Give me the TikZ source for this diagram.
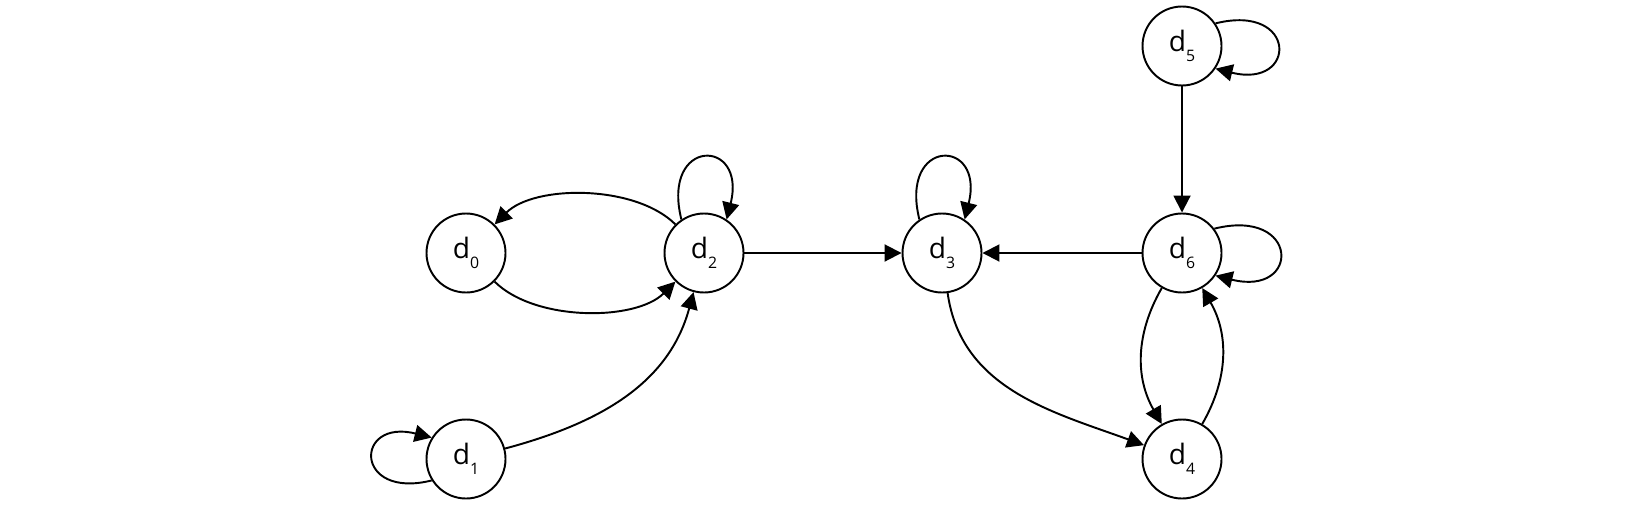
\documentclass[tikz,border=0pt]{standalone}
\usepackage{fontspec}
\setmainfont{Open Sans}
\usetikzlibrary{arrows.meta}

\newcommand{\dlab}[1]{\fontsize{16}{18}\selectfont d\raisebox{-5.5pt}{\fontsize{9}{10}\selectfont #1}}

\begin{document}
\begin{tikzpicture}
        [%%%%%%%%%%%%%%%%%%%%%%%%%%%%%%
        state/.style={circle,draw=black,line width=1.1pt,minimum size=1.58cm,inner sep=0pt},
        edge/.style={line width=1.1pt,-{Triangle[length=0.34cm,width=0.34cm]}},
        selfloop/.style={edge,looseness=4.8},
        ]%%%%%%%%%%%%%%%%%%%%%%%%%%%%%%

        \useasboundingbox (0,0) rectangle (33,10.12);

        \node[state] (d0) at (9.32,5.06)  {\dlab{0}};
        \node[state] (d1) at (9.32,0.94)  {\dlab{1}};
        \node[state] (d2) at (14.08,5.06) {\dlab{2}};
        \node[state] (d3) at (18.84,5.06) {\dlab{3}};
        \node[state] (d4) at (23.64,0.94) {\dlab{4}};
        \node[state] (d5) at (23.64,9.2)  {\dlab{5}};
        \node[state] (d6) at (23.64,5.06) {\dlab{6}};

        % self loops
        \draw[selfloop] (d2.124) to[out=104,in=76] (d2.56);
        \draw[selfloop] (d3.124) to[out=104,in=76] (d3.56);
        \draw[selfloop] (d1.212) to[out=194,in=166] (d1.148);
        \draw[selfloop] (d5.34) to[out=14,in=-14] (d5.-34);
        \draw[selfloop] (d6.37) to[out=14,in=-14] (d6.-34);

        % transitions
        \draw[edge] (d2) to[bend right=45,looseness=0.8] (d0);
        \draw[edge] (d0) to[bend right=45,looseness=0.8] (d2);
        \draw[edge] (d1) to[out=15,in=-105] (d2);
        \draw[edge] (d2) -- (d3);
        \draw[edge] (d6) -- (d3);
        \draw[edge] (d5) -- (d6);
        \draw[edge] (d3) to[out=-82,in=160] (d4);
        \draw[edge] (d6) to[bend right=30] (d4);
        \draw[edge] (d4) to[bend right=30] (d6);

      \end{tikzpicture}
\end{document}
